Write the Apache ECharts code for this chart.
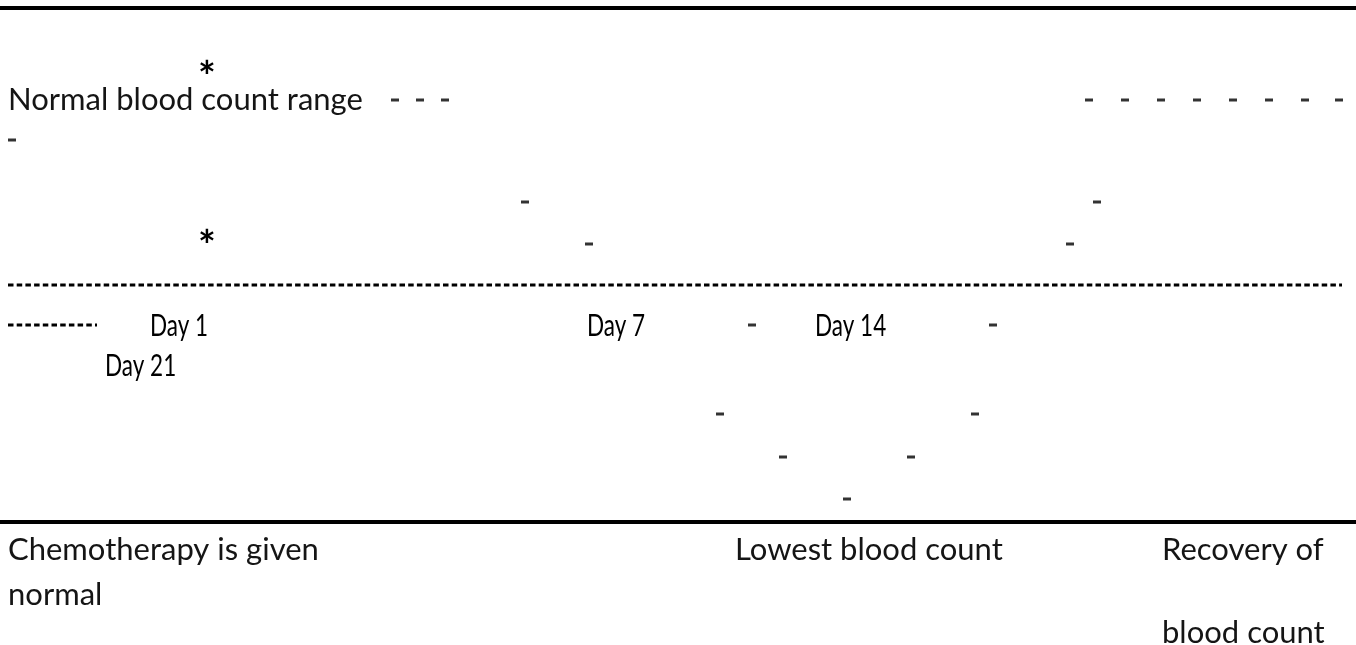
<!DOCTYPE html>
<html>
<head>
<meta charset="utf-8">
<script src="https://cdn.jsdelivr.net/npm/echarts/dist/echarts.min.js"></script>
<style>html,body{margin:0;padding:0;background:#fff;overflow:hidden}#chart{width:1356px;height:645px}</style>
</head>
<body>
<div id="chart"></div>
<script>
// Captions of the diagram (text, column, line position)
const captionTexts = ["Normal blood count range", "Chemotherapy is given", "normal",
  "Lowest blood count", "Recovery of", "blood count"];
const captionCols = [8, 8, 8, 735, 1162, 1162];
const captionRows = [100, 550, 595, 550, 550, 633];

// Day markers on the time line
const dayTexts = ["Day 1", "Day 7", "Day 14", "Day 21"];
const dayCols = [150, 587, 815, 105];
const dayRows = [326, 326, 326, 366];

// Asterisk markers
const starTexts = ["*", "*"];
const starCols = [198, 198];
const starRows = [78, 247];

// Dash marks tracing the blood count curve (column, line position)
const curveCols = [395, 420, 445, 1089, 1125, 1161, 1197, 1233, 1269, 1305, 1339,
  12, 525, 1097, 589, 1070, 752, 993, 720, 975, 783, 911, 847];
const curveRows = [100, 100, 100, 100, 100, 100, 100, 100, 100, 100, 100,
  140, 202, 202, 244, 244, 325, 325, 414, 414, 457, 457, 499];

// Dashed threshold line rows (start col, end col, line position)
const thresholdStart = [8, 8];
const thresholdEnd = [1342, 97];
const thresholdRows = [285, 325];

// Heavy rules above and below the diagram
const ruleRows = [8, 522];
const ruleSpan = [0, 1356];

const chart = echarts.init(document.getElementById('chart'), null, {renderer: 'canvas'});
const series = [];

ruleRows.forEach((r) => {
  series.push({
    type: 'line', silent: true, symbol: 'none',
    data: [[ruleSpan[0], r], [ruleSpan[1], r]],
    lineStyle: {color: '#000', width: 4}
  });
});

thresholdRows.forEach((r, i) => {
  series.push({
    type: 'line', silent: true, symbol: 'none',
    data: [[thresholdStart[i], r], [thresholdEnd[i], r]],
    lineStyle: {color: '#000', width: 3, type: [5.5, 3.2]}
  });
});

series.push({
  type: 'scatter', silent: true,
  symbol: 'rect', symbolSize: [8, 3],
  itemStyle: {color: '#000'},
  data: curveCols.map((c, i) => [c, curveRows[i]])
});

function textSeries(texts, cols, rows, style, scaleX) {
  return {
    type: 'custom', silent: true,
    data: texts.map((t, i) => [cols[i], rows[i], i]),
    renderItem: function (params, api) {
      const p = api.coord([api.value(0), api.value(1)]);
      return {
        type: 'text', x: p[0], y: p[1], scaleX: scaleX, scaleY: 1,
        style: Object.assign({text: texts[api.value(2)], align: 'left', verticalAlign: 'middle'}, style)
      };
    }
  };
}

series.push(textSeries(captionTexts, captionCols, captionRows,
  {fontFamily: 'Lato', fontSize: 31, fill: '#151515'}, 1));
series.push(textSeries(dayTexts, dayCols, dayRows,
  {fontFamily: 'Lato', fontSize: 30, fill: '#000'}, 0.75));
series.push(textSeries(starTexts, starCols, starRows,
  {fontFamily: 'Lato', fontSize: 42, fontWeight: 'bold', fill: '#000'}, 1));

chart.setOption({
  animation: false,
  backgroundColor: '#fff',
  grid: {left: 0, right: 0, top: 0, bottom: 0},
  xAxis: {type: 'value', min: 0, max: 1356, show: false},
  yAxis: {type: 'value', min: 0, max: 645, inverse: true, show: false},
  series: series
});
</script>
</body>
</html>
